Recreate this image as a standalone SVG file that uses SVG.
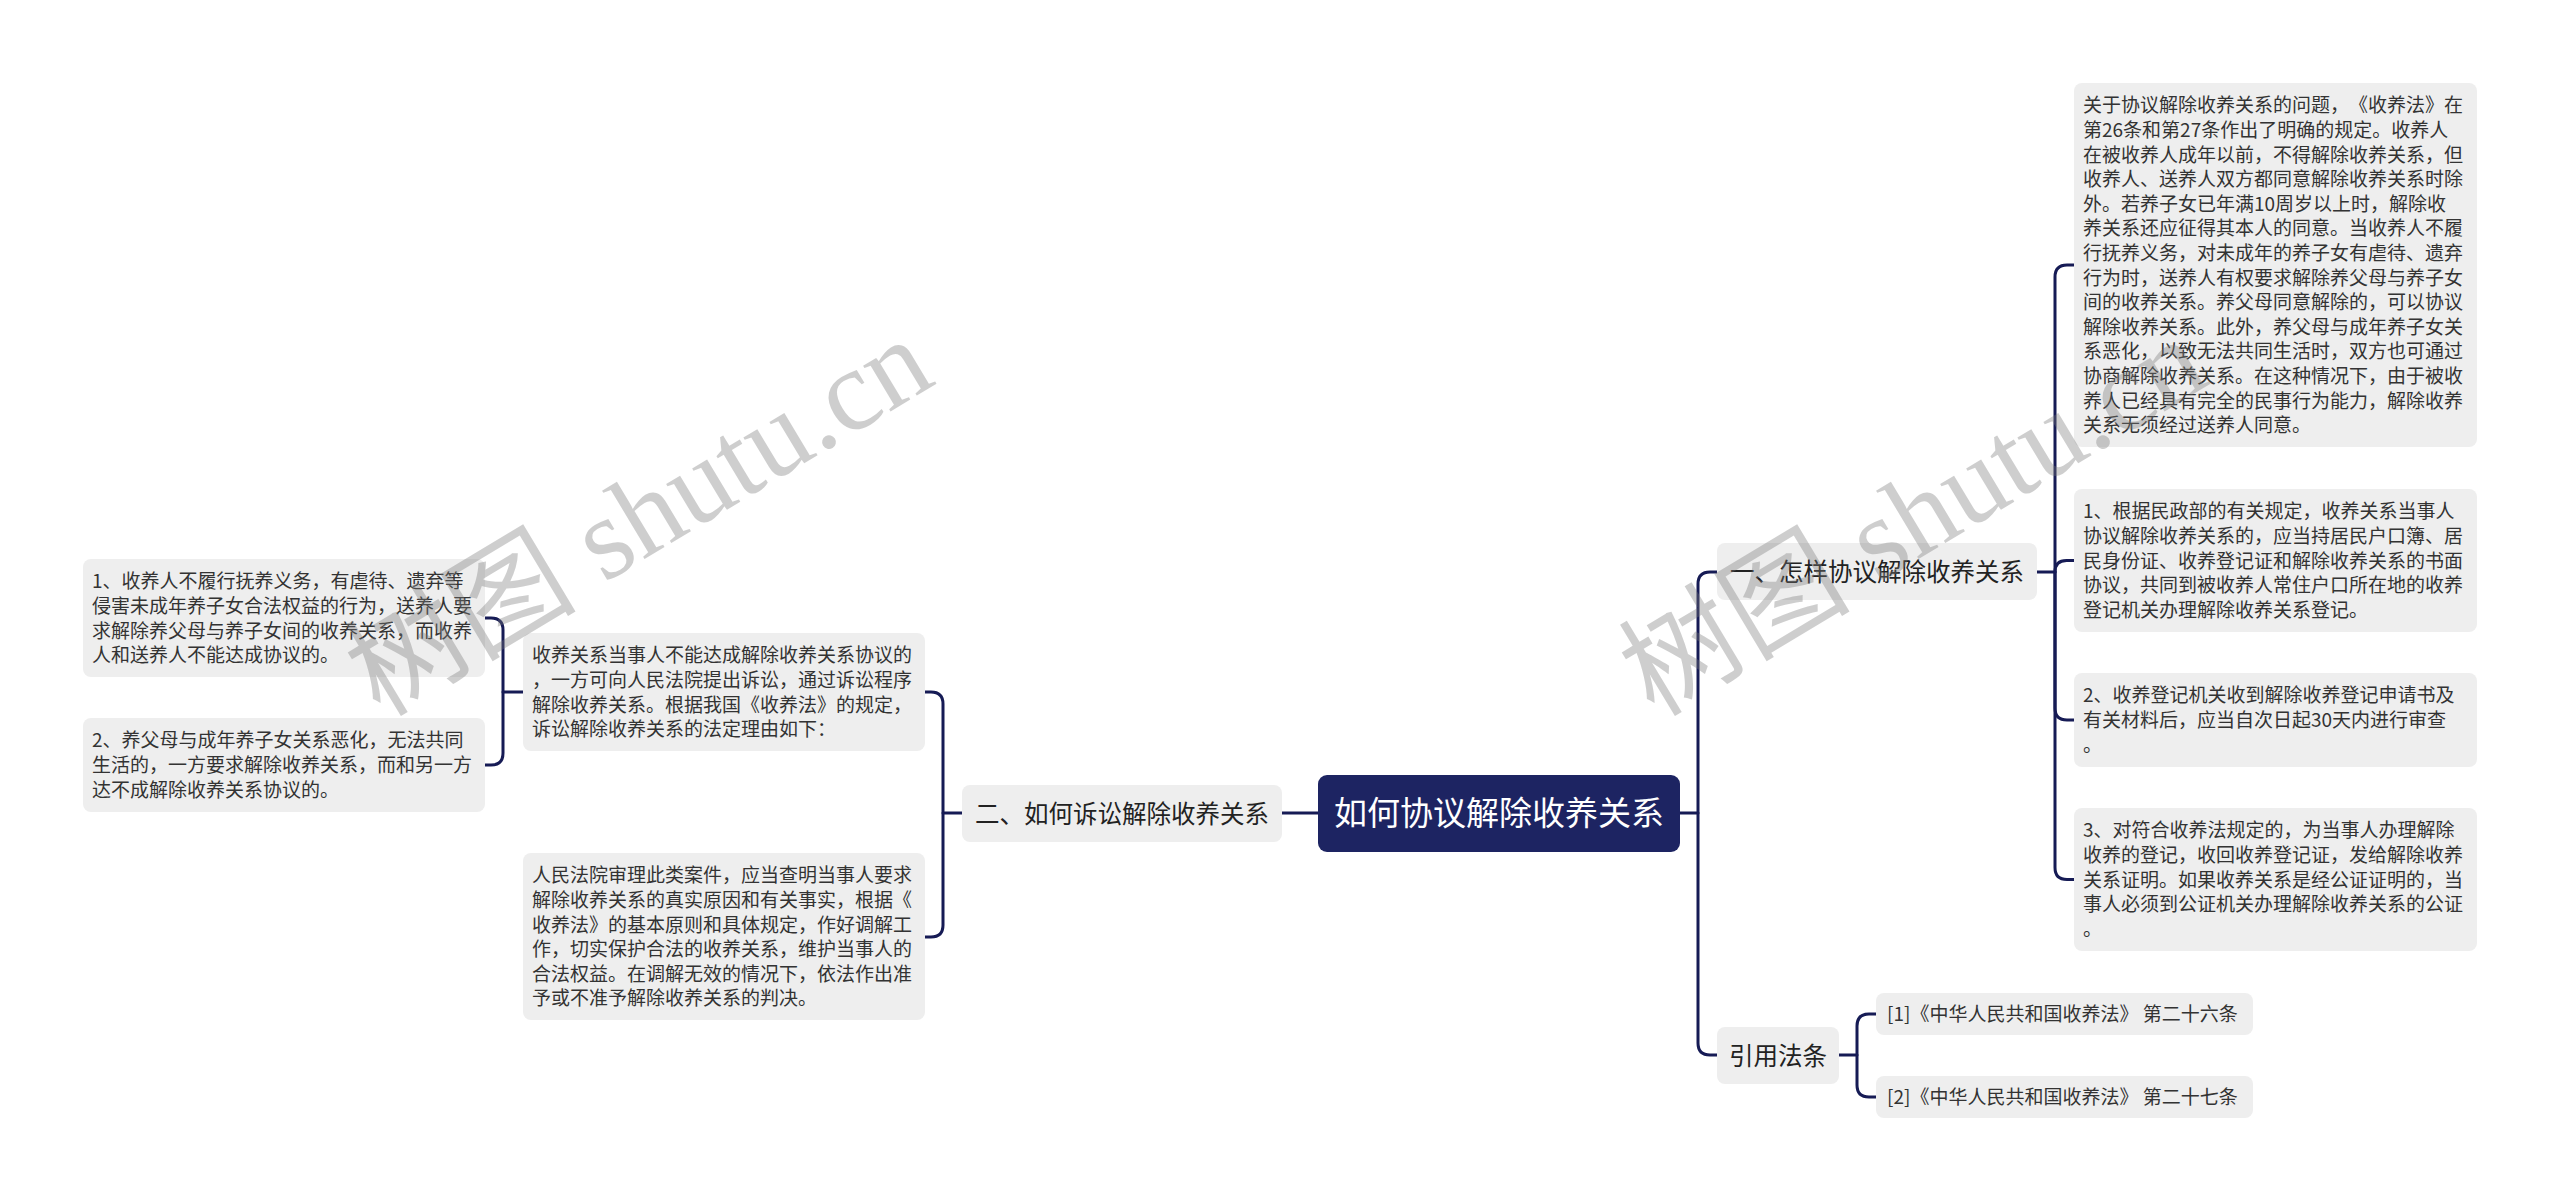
<svg xmlns="http://www.w3.org/2000/svg" width="2560" height="1203" viewBox="0 0 2560 1203">
<style>
text{text-spacing-trim:space-all;}
.box{fill:#eeeeee;}
.t{font-family:"Noto Sans CJK SC","Noto Sans",sans-serif;font-size:19px;fill:#333333;}
.l1{font-family:"Noto Sans CJK SC","Noto Sans",sans-serif;font-size:24.5px;fill:#222222;}
.root{fill:#1d2462;}
.rt{font-family:"Noto Sans CJK SC","Noto Sans",sans-serif;font-size:33px;fill:#ffffff;}
.c{fill:none;stroke:#161b55;stroke-width:3;stroke-linecap:round;stroke-linejoin:round;}
.wm{font-family:"Liberation Serif","Noto Sans CJK SC",serif;font-size:116px;fill:#7a7a7a;opacity:0.36;}
</style>
<rect width="2560" height="1203" fill="#ffffff"/>
<g id="connectors">
<path class="c" d="M1318,813 H1282"/>
<path class="c" d="M1680,813 H1698 V584 Q1698,572 1710,572 H1717"/>
<path class="c" d="M1698,813 V1043 Q1698,1055 1710,1055 H1717"/>
<path class="c" d="M2037,572 H2055 V277 Q2055,265 2067,265 H2074"/>
<path class="c" d="M2055,572 Q2055,560.5 2066.5,560.5 H2074"/>
<path class="c" d="M2055,572 V708 Q2055,720 2067,720 H2074"/>
<path class="c" d="M2055,572 V867.5 Q2055,879.5 2067,879.5 H2074"/>
<path class="c" d="M1839,1055 H1857 V1026 Q1857,1014 1869,1014 H1876"/>
<path class="c" d="M1857,1055 V1085 Q1857,1097 1869,1097 H1876"/>
<path class="c" d="M962,813 H943 V704 Q943,692 931,692 H925"/>
<path class="c" d="M943,813 V925 Q943,937 931,937 H925"/>
<path class="c" d="M523,692 H503 V630 Q503,618 491,618 H485"/>
<path class="c" d="M503,692 V753 Q503,765 491,765 H485"/>
</g>
<g id="root">
<rect class="root" x="1318" y="775" width="362" height="77" rx="9"/>
<text class="rt" x="1499" y="825" text-anchor="middle">如何协议解除收养关系</text>
</g>
<g id="n1">
<rect class="box" x="1717" y="543" width="320" height="57" rx="8"/>
<text class="l1" x="1877" y="580.5" text-anchor="middle">一、怎样协议解除收养关系</text>
</g>
<g id="n2">
<rect class="box" x="962" y="785" width="320" height="57" rx="8"/>
<text class="l1" x="1122" y="822.5" text-anchor="middle">二、如何诉讼解除收养关系</text>
</g>
<g id="n3">
<rect class="box" x="1717" y="1027" width="122" height="57" rx="8"/>
<text class="l1" x="1778" y="1064.5" text-anchor="middle">引用法条</text>
</g>
<g id="n1a">
<rect class="box" x="2074" y="83" width="403" height="364" rx="8"/>
<text class="t" x="2083" y="112.3"><tspan x="2083">关于协议解除收养关系的问题，《收养法》在</tspan><tspan x="2083" dy="24.6">第26条和第27条作出了明确的规定。收养人</tspan><tspan x="2083" dy="24.6">在被收养人成年以前，不得解除收养关系，但</tspan><tspan x="2083" dy="24.6">收养人、送养人双方都同意解除收养关系时除</tspan><tspan x="2083" dy="24.6">外。若养子女已年满10周岁以上时，解除收</tspan><tspan x="2083" dy="24.6">养关系还应征得其本人的同意。当收养人不履</tspan><tspan x="2083" dy="24.6">行抚养义务，对未成年的养子女有虐待、遗弃</tspan><tspan x="2083" dy="24.6">行为时，送养人有权要求解除养父母与养子女</tspan><tspan x="2083" dy="24.6">间的收养关系。养父母同意解除的，可以协议</tspan><tspan x="2083" dy="24.6">解除收养关系。此外，养父母与成年养子女关</tspan><tspan x="2083" dy="24.6">系恶化，以致无法共同生活时，双方也可通过</tspan><tspan x="2083" dy="24.6">协商解除收养关系。在这种情况下，由于被收</tspan><tspan x="2083" dy="24.6">养人已经具有完全的民事行为能力，解除收养</tspan><tspan x="2083" dy="24.6">关系无须经过送养人同意。</tspan></text>
</g>
<g id="n1b">
<rect class="box" x="2074" y="489" width="403" height="143" rx="8"/>
<text class="t" x="2083" y="518.3"><tspan x="2083">1、根据民政部的有关规定，收养关系当事人</tspan><tspan x="2083" dy="24.6">协议解除收养关系的，应当持居民户口簿、居</tspan><tspan x="2083" dy="24.6">民身份证、收养登记证和解除收养关系的书面</tspan><tspan x="2083" dy="24.6">协议，共同到被收养人常住户口所在地的收养</tspan><tspan x="2083" dy="24.6">登记机关办理解除收养关系登记。</tspan></text>
</g>
<g id="n1c">
<rect class="box" x="2074" y="673" width="403" height="94" rx="8"/>
<text class="t" x="2083" y="702.3"><tspan x="2083">2、收养登记机关收到解除收养登记申请书及</tspan><tspan x="2083" dy="24.6">有关材料后，应当自次日起30天内进行审查</tspan><tspan x="2083" dy="24.6">。</tspan></text>
</g>
<g id="n1d">
<rect class="box" x="2074" y="808" width="403" height="143" rx="8"/>
<text class="t" x="2083" y="837.3"><tspan x="2083">3、对符合收养法规定的，为当事人办理解除</tspan><tspan x="2083" dy="24.6">收养的登记，收回收养登记证，发给解除收养</tspan><tspan x="2083" dy="24.6">关系证明。如果收养关系是经公证证明的，当</tspan><tspan x="2083" dy="24.6">事人必须到公证机关办理解除收养关系的公证</tspan><tspan x="2083" dy="24.6">。</tspan></text>
</g>
<g id="n3a">
<rect class="box" x="1876" y="993" width="377" height="42" rx="8"/>
<text class="t" x="1887" y="1021">[1]《中华人民共和国收养法》 第二十六条</text>
</g>
<g id="n3b">
<rect class="box" x="1876" y="1076" width="377" height="42" rx="8"/>
<text class="t" x="1887" y="1104">[2]《中华人民共和国收养法》 第二十七条</text>
</g>
<g id="n2a">
<rect class="box" x="523" y="633" width="402" height="118" rx="8"/>
<text class="t" x="532" y="662.3"><tspan x="532">收养关系当事人不能达成解除收养关系协议的</tspan><tspan x="532" dy="24.6">，一方可向人民法院提出诉讼，通过诉讼程序</tspan><tspan x="532" dy="24.6">解除收养关系。根据我国《收养法》的规定，</tspan><tspan x="532" dy="24.6">诉讼解除收养关系的法定理由如下：</tspan></text>
</g>
<g id="n2b">
<rect class="box" x="523" y="853" width="402" height="167" rx="8"/>
<text class="t" x="532" y="882.3"><tspan x="532">人民法院审理此类案件，应当查明当事人要求</tspan><tspan x="532" dy="24.6">解除收养关系的真实原因和有关事实，根据《</tspan><tspan x="532" dy="24.6">收养法》的基本原则和具体规定，作好调解工</tspan><tspan x="532" dy="24.6">作，切实保护合法的收养关系，维护当事人的</tspan><tspan x="532" dy="24.6">合法权益。在调解无效的情况下，依法作出准</tspan><tspan x="532" dy="24.6">予或不准予解除收养关系的判决。</tspan></text>
</g>
<g id="n2a1">
<rect class="box" x="83" y="559" width="402" height="118" rx="8"/>
<text class="t" x="92" y="588.3"><tspan x="92">1、收养人不履行抚养义务，有虐待、遗弃等</tspan><tspan x="92" dy="24.6">侵害未成年养子女合法权益的行为，送养人要</tspan><tspan x="92" dy="24.6">求解除养父母与养子女间的收养关系，而收养</tspan><tspan x="92" dy="24.6">人和送养人不能达成协议的。</tspan></text>
</g>
<g id="n2a2">
<rect class="box" x="83" y="718" width="402" height="94" rx="8"/>
<text class="t" x="92" y="747.3"><tspan x="92">2、养父母与成年养子女关系恶化，无法共同</tspan><tspan x="92" dy="24.6">生活的，一方要求解除收养关系，而和另一方</tspan><tspan x="92" dy="24.6">达不成解除收养关系协议的。</tspan></text>
</g>
<g id="watermark">
<text class="wm" transform="translate(380,718) rotate(-31)">树图 shutu.cn</text>
<text class="wm" transform="translate(1654,718) rotate(-31)">树图 shutu.cn</text>
</g>
</svg>
